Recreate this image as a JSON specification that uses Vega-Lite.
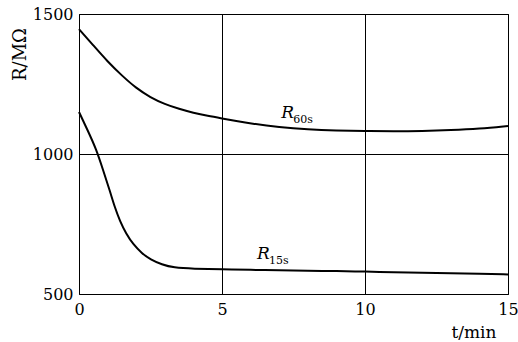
{
  "$schema": "https://vega.github.io/schema/vega-lite/v6.json",
  "autosize": "none",
  "width": 429,
  "height": 280,
  "padding": {"left": 79, "top": 14, "right": 10, "bottom": 48},
  "background": "white",
  "config": {
    "font": "DejaVu Serif",
    "view": {"stroke": "black", "strokeWidth": 1},
    "axis": {
      "labelFont": "DejaVu Serif",
      "titleFont": "DejaVu Serif",
      "labelColor": "black",
      "titleColor": "black",
      "labelFontSize": 16,
      "titleFontSize": 17,
      "titleFontWeight": "normal",
      "ticks": false,
      "domain": false,
      "grid": true,
      "gridColor": "black",
      "gridOpacity": 1,
      "gridWidth": 1
    }
  },
  "datasets": {
    "curves": [
      {"series": "R60s", "t": 0, "r": 1446},
      {"series": "R60s", "t": 0.5, "r": 1388},
      {"series": "R60s", "t": 1, "r": 1330},
      {"series": "R60s", "t": 1.5, "r": 1280},
      {"series": "R60s", "t": 2, "r": 1235},
      {"series": "R60s", "t": 2.5, "r": 1202},
      {"series": "R60s", "t": 3, "r": 1178},
      {"series": "R60s", "t": 3.5, "r": 1161},
      {"series": "R60s", "t": 4, "r": 1147},
      {"series": "R60s", "t": 4.5, "r": 1136},
      {"series": "R60s", "t": 5, "r": 1127},
      {"series": "R60s", "t": 5.5, "r": 1118},
      {"series": "R60s", "t": 6, "r": 1109},
      {"series": "R60s", "t": 7, "r": 1096},
      {"series": "R60s", "t": 8, "r": 1088},
      {"series": "R60s", "t": 9, "r": 1084},
      {"series": "R60s", "t": 10, "r": 1082},
      {"series": "R60s", "t": 11, "r": 1081},
      {"series": "R60s", "t": 12, "r": 1082},
      {"series": "R60s", "t": 13, "r": 1085},
      {"series": "R60s", "t": 14, "r": 1090},
      {"series": "R60s", "t": 15, "r": 1100},
      {"series": "R15s", "t": 0, "r": 1150},
      {"series": "R15s", "t": 0.3, "r": 1085},
      {"series": "R15s", "t": 0.6, "r": 1018},
      {"series": "R15s", "t": 0.85, "r": 940},
      {"series": "R15s", "t": 1.08, "r": 868},
      {"series": "R15s", "t": 1.25, "r": 810},
      {"series": "R15s", "t": 1.43, "r": 761},
      {"series": "R15s", "t": 1.65, "r": 715},
      {"series": "R15s", "t": 1.9, "r": 677},
      {"series": "R15s", "t": 2.2, "r": 645},
      {"series": "R15s", "t": 2.5, "r": 623},
      {"series": "R15s", "t": 2.9, "r": 605},
      {"series": "R15s", "t": 3.3, "r": 594},
      {"series": "R15s", "t": 4, "r": 590},
      {"series": "R15s", "t": 5, "r": 588},
      {"series": "R15s", "t": 6, "r": 586},
      {"series": "R15s", "t": 7, "r": 585},
      {"series": "R15s", "t": 8, "r": 583},
      {"series": "R15s", "t": 9, "r": 582},
      {"series": "R15s", "t": 10, "r": 580},
      {"series": "R15s", "t": 11, "r": 578},
      {"series": "R15s", "t": 12, "r": 576},
      {"series": "R15s", "t": 13, "r": 574},
      {"series": "R15s", "t": 14, "r": 572},
      {"series": "R15s", "t": 15, "r": 570}
    ],
    "labels": [
      {"main": "R", "sub": "60s", "t": 7.07, "r": 1127},
      {"main": "R", "sub": "15s", "t": 6.22, "r": 624}
    ]
  },
  "layer": [
    {
      "data": {"name": "curves"},
      "mark": {"type": "line", "interpolate": "basis", "strokeWidth": 2, "color": "black"},
      "encoding": {
        "x": {
          "field": "t", "type": "quantitative",
          "scale": {"domain": [0, 15], "nice": false},
          "axis": {
            "values": [0, 5, 10, 15],
            "format": "d",
            "labelFlush": false,
            "labelPadding": 7,
            "title": "t/min",
            "titleAlign": "right",
            "titleBaseline": "middle",
            "titleX": 417,
            "titleY": 38
          }
        },
        "y": {
          "field": "r", "type": "quantitative",
          "scale": {"domain": [500, 1500], "nice": false, "zero": false},
          "axis": {
            "values": [500, 1000, 1500],
            "format": "d",
            "labelPadding": 6,
            "title": "R/MΩ",
            "titleFontSize": 18,
            "titleAngle": -90,
            "titleAlign": "center",
            "titleBaseline": "middle",
            "titleX": -59,
            "titleY": 40
          }
        },
        "detail": {"field": "series"}
      }
    },
    {
      "data": {"name": "labels"},
      "mark": {"type": "text", "font": "DejaVu Serif", "fontStyle": "italic", "fontSize": 17, "align": "left", "baseline": "alphabetic", "color": "black"},
      "encoding": {
        "x": {"field": "t", "type": "quantitative"},
        "y": {"field": "r", "type": "quantitative"},
        "text": {"field": "main"}
      }
    },
    {
      "data": {"name": "labels"},
      "mark": {"type": "text", "font": "DejaVu Serif", "fontSize": 11, "align": "left", "baseline": "alphabetic", "dx": 12, "dy": 5, "color": "black"},
      "encoding": {
        "x": {"field": "t", "type": "quantitative"},
        "y": {"field": "r", "type": "quantitative"},
        "text": {"field": "sub"}
      }
    }
  ]
}
